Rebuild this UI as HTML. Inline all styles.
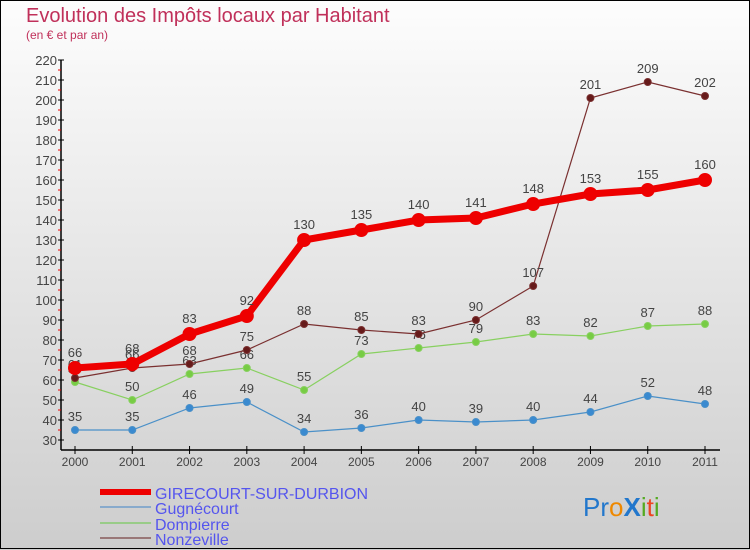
<!DOCTYPE html>
<html><head><meta charset="utf-8"><style>
body{margin:0}
#c{width:750px;height:550px;position:relative;overflow:hidden;background:linear-gradient(#fdfdfd,#cdcdcd);font-family:"Liberation Sans","DejaVu Sans",sans-serif}
</style></head><body>
<div id="c">
<svg id="s" width="750" height="550" xmlns="http://www.w3.org/2000/svg" style="position:absolute;left:0;top:0">
<rect x="0.5" y="0.5" width="749" height="548" fill="none" stroke="#000"/>
<text x="26" y="22" font-size="20" fill="#c0305a">Evolution des Impôts locaux par Habitant</text>
<text x="26" y="39" font-size="12" fill="#c0305a">(en € et par an)</text>
<g id="ax"></g><g id="ser"></g>
<g>
<line x1="100" y1="492" x2="151" y2="492" stroke="#ee0000" stroke-width="6"/>
<text x="155" y="499" font-size="16" fill="#5555ee">GIRECOURT-SUR-DURBION</text>
<line x1="100" y1="507" x2="151" y2="507" stroke="#88aacc" stroke-width="2"/>
<text x="155" y="514" font-size="16" fill="#5555ee">Gugnécourt</text>
<line x1="100" y1="523" x2="151" y2="523" stroke="#99cc88" stroke-width="2"/>
<text x="155" y="530" font-size="16" fill="#5555ee">Dompierre</text>
<line x1="100" y1="538" x2="151" y2="538" stroke="#997777" stroke-width="2"/>
<text x="155" y="545" font-size="16" fill="#5555ee">Nonzeville</text>
</g>
<text x="583" y="516" font-size="26"><tspan fill="#2277cc">Pr</tspan><tspan fill="#ee8800">o</tspan><tspan fill="#2277cc" font-weight="bold">X</tspan><tspan fill="#55aa22">i</tspan><tspan fill="#ee4422">t</tspan><tspan fill="#55aa22">i</tspan></text>
</svg>
</div>
<script>
const years=["2000","2001","2002","2003","2004","2005","2006","2007","2008","2009","2010","2011"];
const yTicks=[30,40,50,60,70,80,90,100,110,120,130,140,150,160,170,180,190,200,210,220];
const girecourt=[66,68,83,92,130,135,140,141,148,153,155,160];
const gugnecourt=[35,35,46,49,34,36,40,39,40,44,52,48];
const dompierre=[59,50,63,66,55,73,76,79,83,82,87,88];
const nonzeville=[61,66,68,75,88,85,83,90,107,201,209,202];
const NS="http://www.w3.org/2000/svg";
function X(i){return 75+i*(630/11);}
function Y(v){return 440-(v-30)*2;}
function mk(t,a,p){const e=document.createElementNS(NS,t);for(const k in a)e.setAttribute(k,a[k]);p.appendChild(e);return e;}
const ax=document.getElementById('ax');
const ya=mk('line',{x1:61,y1:60,x2:61,y2:450,stroke:'#000','stroke-width':1.5},ax);


const xa=mk('line',{x1:61,y1:450,x2:720,y2:450,stroke:'#000','stroke-width':1.5},ax);


yTicks.forEach(v=>{
 mk('line',{x1:58,y1:Y(v),x2:64,y2:Y(v),stroke:'#000'},ax);
 if(v<220) mk('line',{x1:58,y1:Y(v+5),x2:61,y2:Y(v+5),stroke:'#e00'},ax);
 const t=mk('text',{x:57,y:Y(v)+5,'font-size':13,fill:'#444','text-anchor':'end'},ax);t.textContent=v;
 
 
});
years.forEach((y,i)=>{
 mk('line',{x1:X(i),y1:446,x2:X(i),y2:454,stroke:'#000'},ax);
 const t=mk('text',{x:X(i),y:466,'font-size':12,fill:'#444','text-anchor':'middle'},ax);t.textContent=y;
 
 
});
const ser=document.getElementById('ser');
function draw(name,data,color,lw,r,fill){
 const g=mk('g',{},ser);
 
 
 mk('polyline',{points:data.map((v,i)=>X(i)+','+Y(v)).join(' '),fill:'none',stroke:color,'stroke-width':lw},g);
 data.forEach((v,i)=>{
  const c=mk('circle',{cx:X(i),cy:Y(v),r:r,fill:fill,stroke:color,'stroke-width':1},g);
  
  
  const t=mk('text',{x:X(i),y:Y(v)-9-(r>5?2:0),'font-size':13,fill:'#444','text-anchor':'middle'},g);t.textContent=v;
  
  
 });
}
draw('gugnecourt',gugnecourt,'#4a90c8',1.2,3.5,'#3a8ad0');
draw('dompierre',dompierre,'#88d060',1.2,3.5,'#77cc44');
draw('nonzeville',nonzeville,'#7a3030',1.2,3.5,'#661a1a');
draw('girecourt',girecourt,'#ee0000',7,6.5,'#ee0000');
</script>
</body></html>
